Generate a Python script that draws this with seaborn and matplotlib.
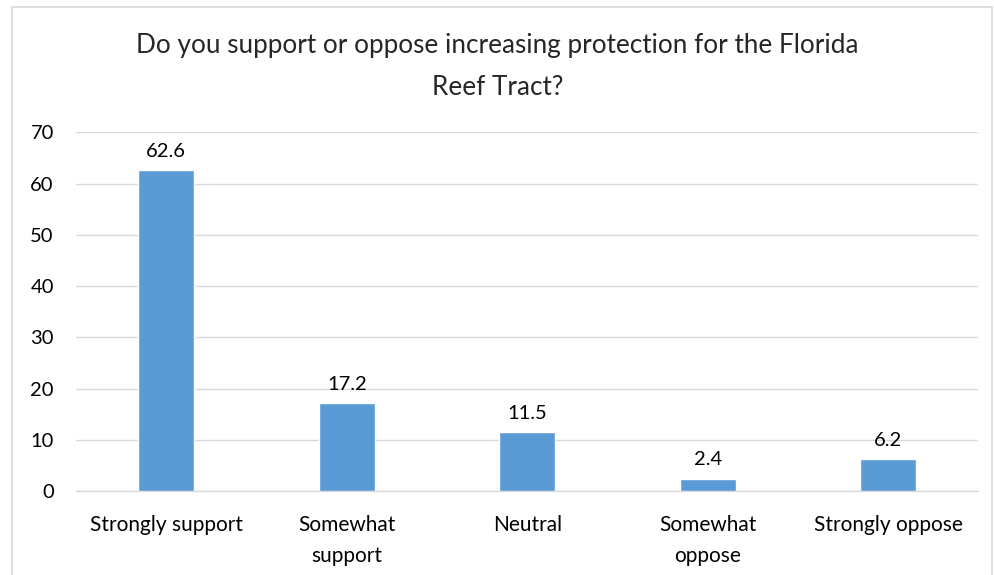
import pandas as pd
import seaborn as sns
from matplotlib import pyplot as plt
from matplotlib.patches import Rectangle

# Survey answers (percent)
categories = ['Strongly support', 'Somewhat\nsupport', 'Neutral', 'Somewhat\noppose', 'Strongly oppose']
percent = [62.6, 17.2, 11.5, 2.4, 6.2]
title = 'Do you support or oppose increasing protection for the Florida\nReef Tract?'

tableau = pd.DataFrame({'answer': categories, 'percent': percent})

sns.set_style('white')
plt.rcParams['font.family'] = ['Lato', 'DejaVu Sans']

fig = plt.figure(figsize=(9.95, 5.75), dpi=100)
ax = fig.add_axes([0.0764, 0.146, 0.907, 0.624])

sns.barplot(data=tableau, x='answer', y='percent', color='#5B9BD5', width=0.31,
            saturation=1, ax=ax, zorder=3)

# data labels
for p, v in zip(ax.patches, percent):
    ax.text(p.get_x() + p.get_width() / 2, v + 2.0, f'{v}', ha='center', va='bottom',
            fontsize=14.5, color='#000000')

ax.set_ylim(0, 70)
ax.set_yticks(range(0, 71, 10))
ax.yaxis.grid(True, color='#D9D9D9', linewidth=1, zorder=0)
ax.set_axisbelow(True)
for s in ['left', 'right', 'top']:
    ax.spines[s].set_visible(False)
ax.spines['bottom'].set_color('#D9D9D9')
ax.spines['bottom'].set_linewidth(1)
ax.tick_params(axis='both', length=0, labelsize=14.5, colors='#000000')
ax.tick_params(axis='x', pad=17, labelsize=15)
ax.tick_params(axis='y', pad=16)
for lbl in ax.get_xticklabels():
    lbl.set_linespacing(1.7)
ax.set_xlabel('')
ax.set_ylabel('')

fig.text(0.5, 0.885, title, ha='center', va='center', fontsize=18.8, linespacing=1.85)

# chart border
fig.patches.append(Rectangle((12 / 995, -0.01), 980 / 995, 1 - 7 / 575 + 0.01,
                             transform=fig.transFigure, fill=False,
                             edgecolor='#D9D9D9', linewidth=1.2))

plt.savefig('out.png', dpi=100)
